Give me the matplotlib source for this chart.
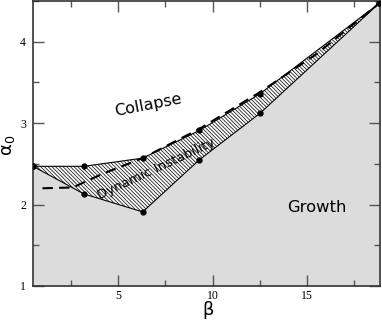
import numpy as np
import matplotlib
matplotlib.use('Agg')
import matplotlib.pyplot as plt
from matplotlib.ticker import MultipleLocator

# boundary of the dynamic instability region
beta_upper = [0.5, 3.2, 6.3, 9.3, 12.5, 18.8]
alpha_upper = [2.47, 2.47, 2.57, 2.91, 3.36, 4.47]
beta_lower = [0.5, 3.2, 6.3, 9.3, 12.5, 18.8]
alpha_lower = [2.47, 2.13, 1.91, 2.55, 3.12, 4.47]

# dashed curve
beta_dash = [1.0, 2.6, 4.2, 6.3, 9.3, 12.5, 15.5, 18.8]
alpha_dash = [2.2, 2.21, 2.38, 2.57, 2.93, 3.38, 3.85, 4.47]

xmin, xmax = 0.5, 18.85
ymin, ymax = 1.0, 4.5

plt.rcParams['hatch.linewidth'] = 0.6

fig = plt.figure(figsize=(3.82, 3.22), dpi=100)
ax = fig.add_axes([33 / 382, 36 / 322, 347 / 382, 285 / 322])

# grey "growth" area below the lower boundary
ax.fill_between(beta_lower, alpha_lower, ymin, color='#dcdcdc', lw=0, zorder=1)

# hatched instability region
poly_x = beta_upper + beta_lower[::-1]
poly_y = alpha_upper + alpha_lower[::-1]
ax.fill(poly_x, poly_y, facecolor='white', edgecolor='#222222', hatch='\\' * 9, lw=0, zorder=2)

ax.plot(beta_upper, alpha_upper, color='black', lw=0.8, marker='o', ms=3.5, zorder=4)
ax.plot(beta_lower, alpha_lower, color='black', lw=0.8, marker='o', ms=3.5, zorder=4)
ax.plot(beta_dash, alpha_dash, color='black', lw=1.5, ls=(0, (5, 3)), zorder=5)

ax.text(6.6, 3.22, 'Collapse', fontsize=11.5, rotation=11, ha='center', va='center')
ax.text(7.0, 2.44, 'Dynamic Instability', fontsize=9.5, rotation=25, ha='center', va='center', zorder=6)
ax.text(15.5, 1.97, 'Growth', fontsize=11.8, ha='center', va='center')

ax.set_xlim(xmin, xmax)
ax.set_ylim(ymin, ymax)
ax.xaxis.set_major_locator(MultipleLocator(5))
ax.xaxis.set_minor_locator(MultipleLocator(2.5))
ax.yaxis.set_major_locator(MultipleLocator(1))
ax.yaxis.set_minor_locator(MultipleLocator(0.5))
ax.tick_params(which='both', direction='in', top=True, right=True, color='#555555', width=1)
ax.tick_params(which='major', length=8, labelsize=8.5)
ax.tick_params(axis='x', which='major', pad=3)
ax.tick_params(axis='y', which='major', pad=5)
ax.tick_params(which='minor', length=4)
for lab in ax.get_xticklabels() + ax.get_yticklabels():
    lab.set_fontfamily('Liberation Serif')
for s in ax.spines.values():
    s.set_color('#333333')
    s.set_linewidth(1.2)

ax.set_xlabel('β', fontsize=13)
ax.set_ylabel(r'$\mathrm{\alpha}_0$', fontsize=13)
ax.xaxis.set_label_coords(0.505, -0.052)
ax.yaxis.set_label_coords(-0.045, 0.495)

fig.savefig('out.png', dpi=100)
